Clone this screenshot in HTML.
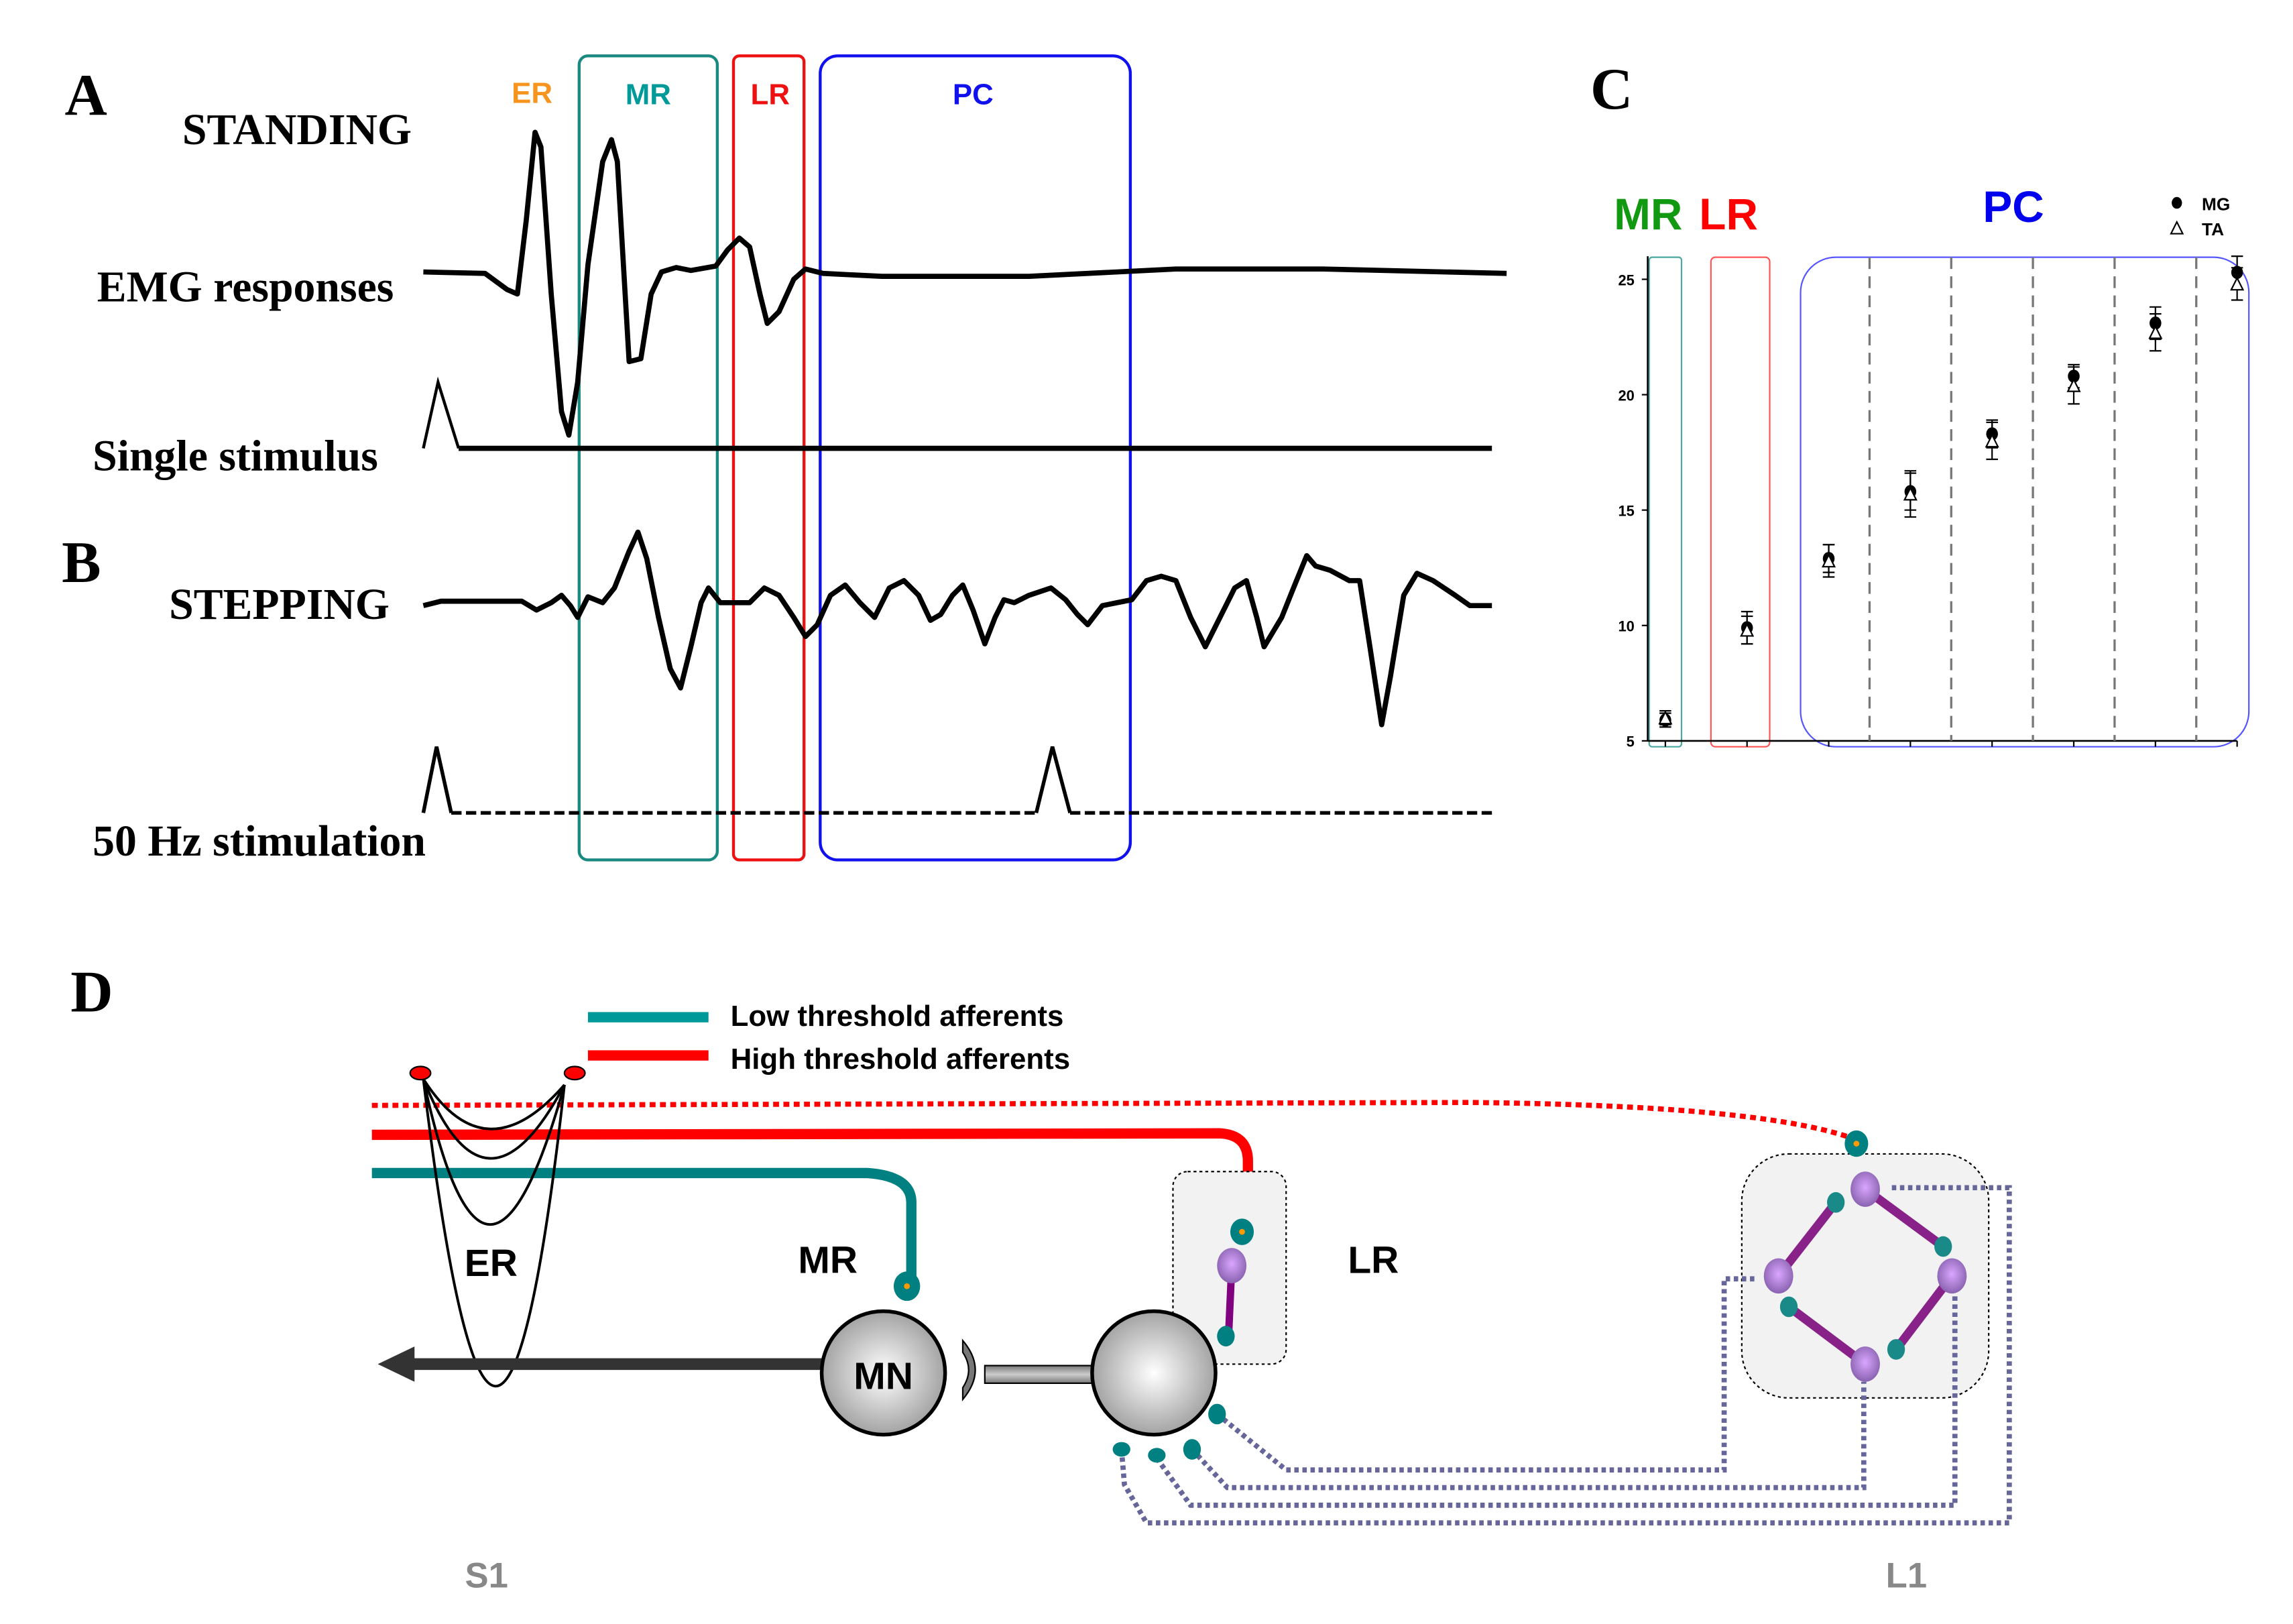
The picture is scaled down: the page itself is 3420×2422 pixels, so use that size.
<!DOCTYPE html>
<html><head><meta charset="utf-8"><style>
html,body{margin:0;padding:0;background:#fff}
svg{display:block}
.serif{font-family:"Liberation Serif",serif;font-weight:bold}
.sans{font-family:"Liberation Sans",sans-serif;font-weight:bold}
</style></head><body>
<svg width="3420" height="2422" viewBox="0 0 1560 1104.8" xmlns="http://www.w3.org/2000/svg">
<defs>
<radialGradient id="gball" cx="50%" cy="50%" r="55%"><stop offset="0" stop-color="#fff"/><stop offset="1" stop-color="#9a9a9a"/></radialGradient>
<radialGradient id="pball" cx="50%" cy="45%" r="55%"><stop offset="0" stop-color="#d9a6ff"/><stop offset="1" stop-color="#8a62b0"/></radialGradient>
<linearGradient id="rod" x1="0" y1="0" x2="0" y2="1"><stop offset="0" stop-color="#777"/><stop offset=".5" stop-color="#ccc"/><stop offset="1" stop-color="#777"/></linearGradient>
</defs>

<!-- Panel A/B -->
<text class="serif" x="44" y="78" font-size="40">A</text>
<text class="serif" x="124" y="98" font-size="30">STANDING</text>
<text class="serif" x="66" y="205" font-size="30">EMG responses</text>
<text class="serif" x="63" y="320" font-size="30">Single stimulus</text>
<text class="serif" x="42" y="396" font-size="40">B</text>
<text class="serif" x="115" y="421" font-size="30">STEPPING</text>
<text class="serif" x="63" y="582" font-size="30">50 Hz stimulation</text>

<text class="sans" x="362" y="70" font-size="20" fill="#f7941d" text-anchor="middle">ER</text>
<text class="sans" x="441" y="71" font-size="20" fill="#009999" text-anchor="middle">MR</text>
<text class="sans" x="524" y="71" font-size="20" fill="#ee1111" text-anchor="middle">LR</text>
<text class="sans" x="662" y="71" font-size="20" fill="#1111ee" text-anchor="middle">PC</text>

<rect x="394" y="38" width="94" height="547" rx="6" fill="none" stroke="#1a8a80" stroke-width="2"/>
<rect x="499" y="38" width="48" height="547" rx="4" fill="none" stroke="#ee1111" stroke-width="2"/>
<rect x="558" y="38" width="211" height="547" rx="12" fill="none" stroke="#1111ee" stroke-width="2"/>

<polyline fill="none" stroke="#000" stroke-width="3.5" stroke-linejoin="round" points="288,185 330,186 345,197 352,200 358,150 364,90 368,100 375,200 382,280 387,296 393,260 400,180 410,110 416,95 420,110 428,246 436,244 443,200 450,185 460,182 470,184 487,181 495,170 503,162 510,168 517,200 522,220 530,212 540,190 548,183 560,186 600,188 700,188 800,183 900,183 1025,186"/>
<polyline fill="none" stroke="#000" stroke-width="2" points="288,305 298,260 312,305"/>
<line x1="312" y1="305" x2="1015" y2="305" stroke="#000" stroke-width="3.5"/>

<polyline fill="none" stroke="#000" stroke-width="3.5" stroke-linejoin="round" points="288,412 300,409 355,409 365,415 375,410 382,405 388,412 393,420 400,406 410,410 418,400 428,375 434,362 440,380 448,420 456,455 463,468 470,440 477,410 482,400 490,410 510,410 520,400 530,405 540,420 548,433 556,425 565,405 575,398 585,410 595,420 605,400 615,395 625,405 633,422 640,418 648,405 655,398 662,415 670,438 677,420 683,408 690,410 700,405 715,400 725,408 733,418 740,425 750,412 760,410 770,408 780,395 790,392 800,395 810,420 820,440 830,420 840,400 848,395 855,420 860,440 866,430 872,420 880,400 889,378 895,385 905,388 918,395 925,395 932,440 940,493 946,460 955,405 964,390 975,395 990,405 1000,412 1015,412"/>
<polyline fill="none" stroke="#000" stroke-width="2.5" points="288,553 297,508 307,553"/>
<polyline fill="none" stroke="#000" stroke-width="2.5" points="705,553 716,508 728,553"/>
<line x1="307" y1="553" x2="705" y2="553" stroke="#000" stroke-width="2.5" stroke-dasharray="7,3"/>
<line x1="728" y1="553" x2="1015" y2="553" stroke="#000" stroke-width="2.5" stroke-dasharray="7,3"/>

<!-- Panel C -->
<text class="serif" x="1082" y="74" font-size="40">C</text>
<text class="sans" x="1098" y="156" font-size="30" fill="#119911">MR</text>
<text class="sans" x="1156" y="156" font-size="30" fill="#ff0000">LR</text>
<text class="sans" x="1349" y="151" font-size="30" fill="#0000ee">PC</text>
<g>
<ellipse cx="1481" cy="138" rx="3.5" ry="4" fill="#000"/>
<text class="sans" x="1498" y="143" font-size="12">MG</text>
<polygon points="1481,151 1477,159 1485,159" fill="#fff" stroke="#000"/>
<text class="sans" x="1498" y="160" font-size="12">TA</text>
</g>
<rect x="1122" y="175" width="22" height="333" rx="2" fill="none" stroke="#4aa8a0" stroke-width="1"/>
<rect x="1164" y="175" width="40" height="333" rx="3" fill="none" stroke="#ff5555" stroke-width="1"/>
<rect x="1225" y="175" width="305" height="333" rx="24" fill="none" stroke="#5555ff" stroke-width="1"/>
<g id="chartC"></g>

<!-- Panel D -->
<text class="serif" x="48" y="688" font-size="40">D</text>
<line x1="400" y1="692" x2="482" y2="692" stroke="#009999" stroke-width="7"/>
<text class="sans" x="497" y="698" font-size="20">Low threshold afferents</text>
<line x1="400" y1="718" x2="482" y2="718" stroke="#ff0000" stroke-width="7"/>
<text class="sans" x="497" y="727" font-size="20">High threshold afferents</text>

<path d="M253,752 L1000,750 Q1200,752 1262,775" fill="none" stroke="#ff0000" stroke-width="3.5" stroke-dasharray="4,3"/>
<path d="M253,772 L830,771 Q849,772 849,790 L849,832" fill="none" stroke="#ff0000" stroke-width="7"/>
<path d="M253,798 L590,798 Q620,800 620,818 L620,870" fill="none" stroke="#008080" stroke-width="7"/>
<ellipse cx="617" cy="875" rx="9" ry="10" fill="#008080"/>
<circle cx="617" cy="875" r="2" fill="#f90"/>

<g fill="none" stroke="#000" stroke-width="1.8">
<path d="M288,734 Q330,800 384,738"/>
<path d="M288,734 Q330,840 384,738"/>
<path d="M288,734 Q330,930 384,738"/>
<path d="M288,734 Q338,1150 384,738"/>
</g>
<ellipse cx="286" cy="730" rx="7" ry="4.5" fill="#f00" stroke="#000"/>
<ellipse cx="391" cy="730" rx="7" ry="4.5" fill="#f00" stroke="#000"/>
<text class="sans" x="316" y="868" font-size="26">ER</text>
<text class="sans" x="543" y="866" font-size="26">MR</text>
<text class="sans" x="917" y="866" font-size="26">LR</text>

<line x1="280" y1="928" x2="565" y2="928" stroke="#333" stroke-width="8"/>
<polygon points="257,928 282,916 282,940" fill="#333"/>
<circle cx="601" cy="934" r="42" fill="url(#gball)" stroke="#000" stroke-width="2.5"/>
<text class="sans" x="601" y="945" font-size="26" text-anchor="middle">MN</text>
<path d="M655,912 Q672,932 655,952 L655,944 Q663,932 655,920 Z" fill="#777" stroke="#000"/>
<rect x="670" y="929" width="75" height="12" fill="url(#rod)" stroke="#000"/>

<rect x="798" y="797" width="77" height="131" rx="10" fill="#f2f2f2" stroke="#000" stroke-dasharray="2,2"/>
<circle cx="785" cy="934" r="42" fill="url(#gball)" stroke="#000" stroke-width="2.5"/>
<line x1="838" y1="861" x2="836" y2="905" stroke="#800080" stroke-width="5"/>
<ellipse cx="845" cy="838" rx="8" ry="9" fill="#008080"/>
<circle cx="845" cy="838" r="2" fill="#f90"/>
<ellipse cx="838" cy="861" rx="10" ry="12" fill="url(#pball)"/>
<ellipse cx="834" cy="909" rx="6" ry="7" fill="#008080"/>

<rect x="1185" y="785" width="168" height="166" rx="32" fill="#f2f2f2" stroke="#000" stroke-dasharray="2,2"/>
<g stroke="#882288" stroke-width="6">
<line x1="1269" y1="809" x2="1322" y2="848"/>
<line x1="1249" y1="818" x2="1210" y2="868"/>
<line x1="1217" y1="889" x2="1269" y2="928"/>
<line x1="1328" y1="868" x2="1290" y2="918"/>
</g>
<g fill="none" stroke="#66669a" stroke-width="3.5" stroke-dasharray="3,2.5">
<path d="M828,962 L875,1000 L1173,1000 L1173,870 L1195,870"/>
<path d="M811,986 L835,1012 L1268,1012 L1268,940"/>
<path d="M787,992 L810,1024 L1330,1024 L1330,880"/>
<path d="M763,986 L765,1010 L780,1036 L1367,1036 L1367,808 L1285,808"/>
</g>
<g fill="#1a8a88">
<ellipse cx="1249" cy="818" rx="6" ry="7"/><ellipse cx="1322" cy="848" rx="6" ry="7"/><ellipse cx="1217" cy="889" rx="6" ry="7"/><ellipse cx="1290" cy="918" rx="6" ry="7"/>
</g>
<g fill="url(#pball)">
<ellipse cx="1269" cy="809" rx="10" ry="12"/><ellipse cx="1210" cy="868" rx="10" ry="12"/><ellipse cx="1328" cy="868" rx="10" ry="12"/><ellipse cx="1269" cy="928" rx="10" ry="12"/>
</g>
<ellipse cx="1263" cy="778" rx="8" ry="9" fill="#008080"/>
<circle cx="1263" cy="778" r="2" fill="#f90"/>
<g fill="#008080">
<ellipse cx="828" cy="962" rx="6" ry="7"/><ellipse cx="811" cy="986" rx="6" ry="7"/><ellipse cx="787" cy="990" rx="6" ry="5"/><ellipse cx="763" cy="986" rx="6" ry="5"/>
</g>
<text class="sans" x="331" y="1080" font-size="24" fill="#888" text-anchor="middle">S1</text>
<text class="sans" x="1297" y="1080" font-size="24" fill="#888" text-anchor="middle">L1</text>
</svg>
<script>
const categories=["MR","LR","PC1","PC2","PC3","PC4","PC5","PC6"];
const mgValues=[5.9,9.9,12.9,15.8,18.3,20.8,23.1,25.3];
const mgErr=[0.3,0.7,0.6,0.8,0.6,0.5,0.7,0.7];
const taValues=[6.0,9.8,12.8,15.7,18.0,20.4,22.7,24.8];
const taErr=[0.3,0.6,0.7,1.0,0.8,0.8,0.8,0.7];
const yTicks=[5,10,15,20,25];
const NS="http://www.w3.org/2000/svg";
const g=document.getElementById('chartC');
const xS=i=>1133+i*(1522-1133)/(categories.length-1);
const yS=v=>504-(v-5)*(504-190)/20;
function mk(t,a){const e=document.createElementNS(NS,t);for(const k in a)e.setAttribute(k,a[k]);g.appendChild(e);return e;}
let ax=mk('line',{x1:1121,y1:yS(5),x2:1522,y2:yS(5),stroke:'#000','stroke-width':1.2});


let ay=mk('line',{x1:1121,y1:yS(26),x2:1121,y2:yS(5),stroke:'#000','stroke-width':1.2});


for(let i=2;i<categories.length-1;i++){
 const dl=mk('line',{x1:(xS(i)+xS(i+1))/2,y1:175,x2:(xS(i)+xS(i+1))/2,y2:504,stroke:'#777','stroke-width':1.5,'stroke-dasharray':'8,5'});
 
 
}
yTicks.forEach(v=>{
 mk('line',{x1:1117,y1:yS(v),x2:1121,y2:yS(v),stroke:'#000'});
 const t=mk('text',{x:1112,y:yS(v)+4,'font-size':10,'text-anchor':'end','font-family':'Liberation Sans, sans-serif','font-weight':'bold'});
 t.textContent=v;
 
 
});
categories.forEach((c,i)=>{
 const x=xS(i);
 mk('line',{x1:x,y1:yS(5),x2:x,y2:yS(5)+4,stroke:'#000'});
 [[mgValues[i],mgErr[i]],[taValues[i],taErr[i]]].forEach(([v,e])=>{
  mk('line',{x1:x,y1:yS(v+e),x2:x,y2:yS(v-e),stroke:'#000','stroke-width':1});
  mk('line',{x1:x-4,y1:yS(v+e),x2:x+4,y2:yS(v+e),stroke:'#000'});
  mk('line',{x1:x-4,y1:yS(v-e),x2:x+4,y2:yS(v-e),stroke:'#000'});
 });
 const p=mk('ellipse',{cx:x,cy:yS(mgValues[i]),rx:4,ry:4.5,fill:'#000'});
 
 
 const ty=yS(taValues[i]);
 const t=mk('polygon',{points:`${x},${ty-4} ${x-4},${ty+4} ${x+4},${ty+4}`,fill:'#fff',stroke:'#000'});
 
 
});
</script>
</body></html>
